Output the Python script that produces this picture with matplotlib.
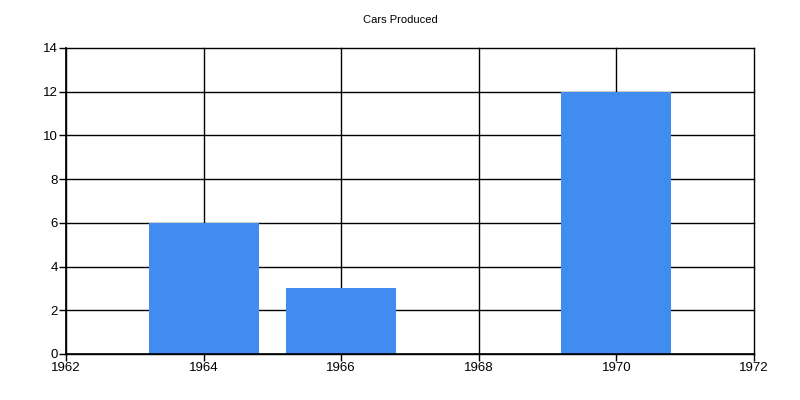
import matplotlib
matplotlib.use("Agg")
import matplotlib.pyplot as plt

# Data
years = [1964, 1966, 1970]
cars = [6, 3, 12]
x_ticks = [1962, 1964, 1966, 1968, 1970, 1972]
y_ticks = [0, 2, 4, 6, 8, 10, 12, 14]

plt.rcParams['font.family'] = ['Liberation Sans', 'DejaVu Sans']

fig = plt.figure(figsize=(8, 4), dpi=100)
ax = fig.add_axes([0.0825, 0.115, 0.86, 0.765])

ax.set_axisbelow(True)
ax.grid(True, color='black', linewidth=1)
ax.bar(years, cars, width=1.6, color='#418CF0', zorder=2)

ax.set_xlim(1962, 1972)
ax.set_ylim(0, 14)
ax.set_xticks(x_ticks)
ax.set_yticks(y_ticks)
ax.tick_params(direction='out', length=5, width=1, labelsize=9.5, pad=1)

# keep edge gridlines fully drawn
for line in ax.get_xgridlines() + ax.get_ygridlines():
    line.set_clip_on(False)

for side in ['top', 'right']:
    ax.spines[side].set_visible(False)
for side in ['left', 'bottom']:
    ax.spines[side].set_linewidth(1.2)

fig.text(0.5, 0.95, 'Cars Produced', ha='center', va='center', fontsize=8)

fig.savefig('out.png', dpi=100)
